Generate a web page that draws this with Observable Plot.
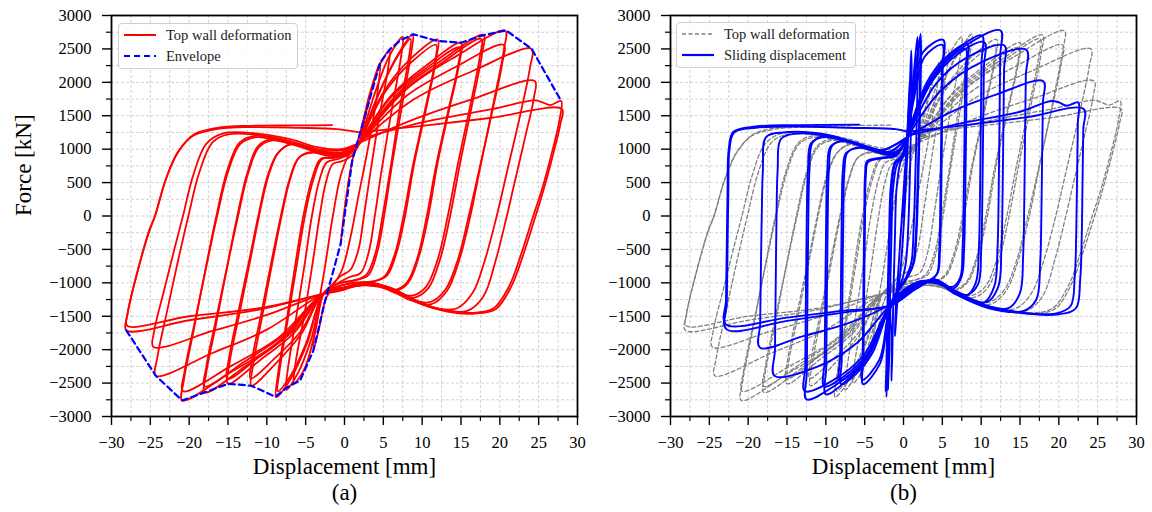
<!DOCTYPE html>
<html><head><meta charset="utf-8">
<script src="https://cdn.jsdelivr.net/npm/d3@7"></script>
<script src="https://cdn.jsdelivr.net/npm/@observablehq/plot@0.6"></script>
<style>
body{margin:0;background:#fff;width:1152px;height:512px;position:relative;overflow:hidden;font-family:"Liberation Serif","Times New Roman",serif}
.panel{position:absolute;top:0}
.panel svg{background:transparent !important}
.panel svg text{font-family:"Liberation Serif","Times New Roman",serif !important}
.legend{position:absolute;border:1.5px solid #cfcfcf;border-radius:4px;background:rgba(255,255,255,0.85);font-size:14.5px;color:#222;width:178px;height:44px}
.row{position:absolute;left:0;height:20px;line-height:20px;white-space:nowrap}
.row svg{position:absolute;left:5px;top:5px}
.row span{position:absolute;left:47px;top:0}
</style></head>
<body>
<div id="pa" class="panel" style="left:0px"></div>
<div id="pb" class="panel" style="left:559px"></div>
<div class="legend" style="left:118px;top:23px">
  <div class="row" style="top:1px"><svg width="34" height="10"><line x1="0" y1="5" x2="32" y2="5" stroke="#ff0000" stroke-width="2"/></svg><span>Top wall deformation</span></div>
  <div class="row" style="top:22px"><svg width="34" height="10"><line x1="0" y1="5" x2="32" y2="5" stroke="#0000ff" stroke-width="2.2" stroke-dasharray="6,4"/></svg><span>Envelope</span></div>
</div>
<div class="legend" style="left:676px;top:22px">
  <div class="row" style="top:1px"><svg width="34" height="10"><line x1="0" y1="5" x2="32" y2="5" stroke="#808080" stroke-width="1.4" stroke-dasharray="4,2.5"/></svg><span>Top wall deformation</span></div>
  <div class="row" style="top:22px"><svg width="34" height="10"><line x1="0" y1="5" x2="32" y2="5" stroke="#0000ff" stroke-width="2.2"/></svg><span>Sliding displacement</span></div>
</div>
<script>
// ---------- axis ticks ----------
const xMajor = [-30, -25, -20, -15, -10, -5, 0, 5, 10, 15, 20, 25, 30];
const xMinor = [-27.5, -22.5, -17.5, -12.5, -7.5, -2.5, 2.5, 7.5, 12.5, 17.5, 22.5, 27.5];
const yMajor = [-3000, -2500, -2000, -1500, -1000, -500, 0, 500, 1000, 1500, 2000, 2500, 3000];
const yMinor = [-2750, -2250, -1750, -1250, -750, -250, 250, 750, 1250, 1750, 2250, 2750];

// ---------- (a) top wall deformation cycles [displacement mm, force kN] ----------
const topWallCycles = [
  [[-0.5,-420],[0,100],[1,830],[2.1,1280],[3.3,1850],[4.6,2300],[4.3,1900],[3,1000],[1.8,300],[0.8,-300],[-0.3,-800],[-1.5,-1050],[-2.5,-1270],[-3.3,-1700],[-4,-2000],[-3.7,-1600],[-2.5,-750],[-1.5,0],[-0.5,600],[0.5,900],[2,1100]],
  [[2,1100],[3.2,1750],[4.5,2250],[5.8,2480],[5.6,2200],[4.5,1500],[3.4,700],[2.5,0],[1.8,-500],[0.8,-800],[-0.5,-900],[-1.8,-1050],[-2.7,-1160],[-3.8,-1750],[-5.2,-2300],[-6.5,-2500],[-6.3,-2200],[-5.2,-1500],[-4.1,-700],[-3.2,0],[-2.4,500],[-1.5,780],[-0.3,820],[0.9,900],[2,1100]],
  [[2,1100],[3.8,1800],[5.8,2400],[7.5,2680],[7.3,2400],[6.1,1600],[4.8,700],[3.9,0],[3.1,-550],[2.1,-850],[0.5,-920],[-1.5,-1050],[-2.7,-1160],[-4.3,-1850],[-6,-2350],[-7.5,-2600],[-7.3,-2300],[-6.2,-1500],[-5.1,-700],[-4.2,0],[-3.2,550],[-2.3,800],[-1,850],[0.6,920],[2,1100]],
  [[2,1100],[4.3,1800],[6.8,2400],[8.8,2720],[8.6,2450],[7.4,1650],[6.1,750],[5.1,0],[4.2,-550],[3.1,-880],[1.5,-960],[-0.5,-1000],[-2.7,-1160],[-4.8,-1900],[-7,-2450],[-8.8,-2710],[-8.6,-2400],[-7.5,-1600],[-6.3,-700],[-5.3,0],[-4.2,550],[-3.1,850],[-1.5,880],[0.5,930],[2,1100]],
  [[2,1100],[4.5,1850],[6.9,2400],[8.5,2650],[8.3,2380],[7.1,1600],[5.9,700],[4.9,0],[4,-550],[2.8,-880],[1,-970],[-1,-1020],[-2.7,-1160],[-5,-1920],[-7,-2400],[-8.6,-2620],[-8.4,-2350],[-7.3,-1550],[-6.1,-700],[-5.1,0],[-4,550],[-2.9,850],[-1.3,870],[0.6,940],[2,1100]],
  [[2,1100],[5,1850],[8.5,2350],[12,2640],[11.8,2350],[10.5,1600],[9,800],[7.8,0],[6.7,-550],[5.4,-900],[3.6,-980],[1,-1000],[-2.7,-1160],[-5.5,-1750],[-8.8,-2200],[-12,-2540],[-11.8,-2250],[-10.6,-1500],[-9.3,-700],[-8.1,0],[-7,550],[-5.8,880],[-4,950],[-2,900],[0.5,950],[2,1100]],
  [[2,1100],[5.2,1850],[8.6,2300],[11.8,2560],[11.6,2280],[10.3,1550],[8.8,750],[7.6,0],[6.5,-560],[5.2,-900],[3.4,-990],[0.8,-1010],[-2.7,-1160],[-5.6,-1720],[-8.9,-2120],[-12.1,-2430],[-11.9,-2150],[-10.7,-1450],[-9.4,-680],[-8.2,0],[-7.1,540],[-5.9,870],[-4.2,960],[-2.2,910],[0.4,950],[2,1100]],
  [[2,1100],[6,1800],[10.5,2250],[15,2590],[14.8,2300],[13.5,1600],[12,800],[10.8,0],[9.6,-600],[8.2,-1000],[6.5,-1120],[4.5,-1060],[2,-1030],[-0.5,-1080],[-2.7,-1160],[-6.5,-1750],[-10.8,-2150],[-15,-2510],[-14.8,-2200],[-13.6,-1500],[-12.2,-700],[-11,0],[-9.8,600],[-8.5,950],[-6.8,1080],[-4.5,1030],[-2.5,960],[0.5,960],[2,1100]],
  [[2,1100],[6,1780],[10.4,2200],[14.8,2520],[14.6,2240],[13.3,1550],[11.8,760],[10.6,0],[9.4,-620],[8,-1000],[6.3,-1110],[4.3,-1050],[1.8,-1040],[-0.6,-1090],[-2.7,-1160],[-6.6,-1720],[-10.9,-2100],[-15.1,-2440],[-14.9,-2150],[-13.7,-1450],[-12.3,-680],[-11.1,0],[-9.9,600],[-8.6,940],[-6.9,1070],[-4.6,1020],[-2.6,950],[0.4,960],[2,1100]],
  [[2,1100],[7,1850],[12.5,2330],[17.9,2710],[17.7,2420],[16.4,1650],[14.9,800],[13.6,0],[12.3,-650],[10.8,-1080],[9,-1220],[6.5,-1150],[4,-1020],[1.5,-1050],[-2.7,-1160],[-7.5,-1800],[-12.8,-2250],[-18,-2640],[-17.8,-2350],[-16.5,-1600],[-15.1,-750],[-13.8,0],[-12.5,650],[-11.1,1050],[-9.3,1150],[-6.5,1080],[-3.8,970],[-1,930],[2,1100]],
  [[2,1100],[7,1820],[12.4,2280],[17.6,2650],[17.4,2370],[16.1,1600],[14.6,780],[13.3,0],[12,-650],[10.5,-1060],[8.7,-1190],[6.2,-1120],[3.8,-1010],[1.3,-1050],[-2.7,-1160],[-7.6,-1760],[-12.9,-2180],[-18,-2550],[-17.8,-2260],[-16.5,-1520],[-15,-700],[-13.7,0],[-12.4,640],[-11,1030],[-9.2,1130],[-6.4,1060],[-3.7,960],[-1,920],[2,1100]],
  [[2,1100],[8,1900],[14.5,2400],[20.7,2770],[20.5,2480],[19.2,1700],[17.6,800],[16.2,0],[14.8,-650],[13.2,-1120],[11.2,-1320],[8.5,-1260],[5.5,-1080],[3,-1000],[0.5,-1060],[-2.7,-1160],[-8.5,-1880],[-14.8,-2350],[-20.9,-2760],[-20.7,-2470],[-19.4,-1700],[-17.9,-800],[-16.5,0],[-15.1,680],[-13.5,1100],[-11.5,1200],[-8.5,1140],[-5.5,1040],[-2.5,950],[0.5,950],[2,1100]],
  [[2,1100],[8,1800],[14.3,2230],[20.5,2560],[20.3,2280],[19,1550],[17.4,720],[16,0],[14.6,-650],[13,-1100],[11,-1290],[8.2,-1230],[5.3,-1060],[2.8,-990],[0.3,-1060],[-2.7,-1160],[-8.5,-1820],[-14.7,-2250],[-20.8,-2620],[-20.6,-2330],[-19.3,-1600],[-17.8,-760],[-16.4,0],[-15,660],[-13.4,1080],[-11.3,1180],[-8.3,1120],[-5.3,1030],[-2.4,950],[0.5,960],[2,1100]],
  [[2,1100],[9,1750],[16.5,2170],[24.1,2500],[23.9,2230],[22.6,1500],[21,700],[19.6,0],[18.1,-650],[16.5,-1150],[14.5,-1380],[11.5,-1380],[8.5,-1250],[5.5,-1060],[2.5,-1000],[0,-1070],[-2.7,-1160],[-10,-1700],[-17,-2050],[-24.3,-2390],[-24.1,-2120],[-22.8,-1400],[-21.4,-650],[-20.1,0],[-18.7,650],[-17,1100],[-15,1220],[-11,1210],[-7,1120],[-3.5,1000],[-0.5,980],[2,1100]],
  [[2,1100],[9,1450],[16.5,1750],[24.5,2020],[24.4,1780],[23.2,1150],[21.7,400],[20.9,0],[19.5,-650],[17.9,-1200],[15.8,-1420],[12.5,-1400],[9.5,-1280],[6,-1080],[3,-1000],[0,-1080],[-2.7,-1160],[-10,-1480],[-17,-1720],[-24.6,-1960],[-24.5,-1720],[-23.2,-1100],[-21.8,-450],[-20.8,0],[-19.5,600],[-17.8,1080],[-15.5,1240],[-11,1230],[-7,1150],[-3.5,1030],[-0.5,1000],[2,1100]],
  [[2,1150],[10,1400],[19,1600],[24.5,1730],[25.5,1700],[26.5,1660],[27.9,1720],[27.7,1450],[26.6,900],[25.3,350],[24.3,0],[22.8,-550],[21.2,-1050],[19.2,-1380],[16.5,-1450],[13,-1410],[9.5,-1290],[6,-1080],[3,-1000],[0,-1090],[-2.7,-1160],[-11,-1400],[-20,-1560],[-28.1,-1710],[-28,-1500],[-26.8,-900],[-25.2,-250],[-24.4,0],[-23,550],[-21.5,950],[-19.5,1200],[-16.5,1300],[-12,1330],[-6,1320],[-1,1300],[2,1250]],
  [[2,1250],[10,1350],[19,1470],[28,1600],[27.8,1380],[26.7,850],[25.4,300],[24.6,0],[23.1,-550],[21.5,-1050],[19.5,-1390],[16.8,-1460],[13.2,-1430],[9.6,-1300],[6,-1090],[3,-1010],[0,-1100],[-2.7,-1170],[-11,-1380],[-20,-1500],[-28,-1640],[-27.9,-1450],[-26.7,-850],[-25.1,-200],[-24.4,0],[-23,550],[-21.4,960],[-19.4,1220],[-16.4,1320],[-12,1350],[-6,1355],[-1.6,1360]]
];

// ---------- (a) envelope ----------
const envelope = [[-28.1,-1710],[-24.3,-2390],[-20.9,-2760],[-18,-2640],[-15,-2510],[-12,-2540],[-8.9,-2705],[-7.4,-2565],[-5.7,-2460],[-4,-2010],[-2.5,-1270],[-0.5,-420],[1,830],[2.1,1280],[4.6,2300],[5.9,2500],[7.2,2630],[8.9,2718],[11.9,2620],[15,2593],[17.8,2703],[20.8,2778],[24.1,2500],[27.9,1720]];

// ---------- (b) sliding displacement cycles [displacement mm, force kN] ----------
const slidingCycles = [
  [[0,0],[0.3,800],[0.6,1500],[0.8,2000],[0.7,1500],[0.4,700],[0.1,0],[-0.3,-700],[-0.8,-1300],[-1.1,-1800],[-1,-1400],[-0.6,-700],[-0.2,0],[0.2,700],[0.5,1180]],
  [[0.5,1180],[0.8,1900],[1.0,2476],[1.05,2100],[0.95,1300],[0.8,500],[0.6,-200],[0.3,-700],[-0.3,-1000],[-1.6,-1320],[-1.5,-1900],[-1.55,-2467],[-1.45,-2100],[-1.3,-1200],[-1.1,-300],[-0.9,400],[-0.4,800],[0.2,950],[0.5,1180]],
  [[0.5,1180],[1.3,2100],[1.8,2680],[1.85,2300],[1.7,1400],[1.5,500],[1.3,-200],[1,-700],[0.2,-950],[-1.6,-1320],[-1.8,-2000],[-2.0,-2600],[-1.9,-2200],[-1.75,-1300],[-1.55,-300],[-1.35,400],[-0.8,780],[0,900],[0.5,1180]],
  [[0.5,1180],[1.6,2200],[2.2,2725],[2.25,2350],[2.1,1400],[1.9,500],[1.7,-200],[1.3,-720],[0.4,-940],[-1.6,-1320],[-1.9,-2100],[-2.2,-2707],[-2.1,-2300],[-1.95,-1300],[-1.75,-300],[-1.55,400],[-1,800],[-0.2,880],[0.5,1180]],
  [[0.5,1180],[1.5,2150],[2.1,2650],[2.15,2300],[2.0,1350],[1.8,450],[1.6,-250],[1.2,-730],[0.3,-950],[-1.6,-1320],[-2,-2050],[-2.3,-2620],[-2.2,-2250],[-2.05,-1250],[-1.85,-250],[-1.65,420],[-1.1,810],[-0.3,890],[0.5,1180]],
  [[0.5,1180],[1.5,1950],[2.5,2450],[5.1,2636],[5.05,2200],[4.95,1200],[4.85,300],[4.7,-500],[4.4,-850],[3.5,-950],[2,-980],[0.2,-1100],[-1.6,-1320],[-3,-2200],[-5.2,-2517],[-5.15,-2100],[-5.05,-1000],[-4.95,0],[-4.85,600],[-4.6,800],[-3.5,850],[-2.3,870],[-1,900],[0.5,1180]],
  [[0.5,1180],[1.6,1900],[2.7,2380],[5.0,2560],[4.95,2150],[4.85,1150],[4.75,250],[4.6,-520],[4.3,-870],[3.4,-960],[1.9,-990],[0.1,-1110],[-1.6,-1320],[-3.1,-2150],[-5.3,-2450],[-5.25,-2050],[-5.15,-950],[-5.05,0],[-4.95,620],[-4.7,820],[-3.6,860],[-2.4,880],[-1,910],[0.5,1180]],
  [[0.5,1180],[3,2000],[5.5,2380],[8.2,2575],[8.15,2200],[8.05,1200],[7.95,300],[7.8,-500],[7.5,-900],[6.5,-1080],[4,-1000],[2,-1000],[0,-1120],[-1.6,-1320],[-4,-2050],[-6,-2350],[-8,-2520],[-7.95,-2150],[-7.85,-1000],[-7.75,0],[-7.6,700],[-7.2,950],[-5.5,1030],[-3,950],[-1,920],[0.5,1180]],
  [[0.5,1180],[3.1,1960],[5.6,2330],[8.0,2500],[7.95,2150],[7.85,1150],[7.75,250],[7.6,-520],[7.3,-920],[6.3,-1060],[3.9,-990],[1.9,-1000],[-0.1,-1120],[-1.6,-1320],[-4.1,-2000],[-6.1,-2300],[-8.2,-2450],[-8.15,-2100],[-8.05,-980],[-7.95,0],[-7.8,690],[-7.4,940],[-5.6,1020],[-3.1,945],[-1,915],[0.5,1180]],
  [[0.5,1180],[3.5,2050],[7,2500],[10.1,2700],[10.05,2300],[9.95,1300],[9.85,300],[9.7,-500],[9.3,-1000],[8,-1200],[6,-1100],[4,-980],[1.5,-1050],[-1.6,-1320],[-4.5,-2100],[-7.5,-2480],[-10,-2667],[-9.95,-2250],[-9.85,-1000],[-9.75,0],[-9.6,700],[-9.2,1050],[-7.5,1130],[-4.5,1030],[-2,950],[0.5,1180]],
  [[0.5,1180],[3.6,2000],[7.1,2430],[10.4,2600],[10.35,2220],[10.25,1250],[10.15,250],[10,-520],[9.6,-1020],[8.2,-1180],[6.1,-1090],[4,-970],[1.4,-1050],[-1.6,-1320],[-4.6,-2050],[-7.7,-2400],[-10.2,-2550],[-10.15,-2150],[-10.05,-960],[-9.95,0],[-9.8,690],[-9.4,1040],[-7.7,1120],[-4.6,1020],[-2,945],[0.5,1180]],
  [[0.5,1180],[4,2100],[8,2550],[12.5,2775],[12.45,2400],[12.35,1300],[12.25,300],[12.1,-500],[11.7,-1050],[10.3,-1300],[7.5,-1200],[4,-950],[1.5,-1060],[-1.6,-1320],[-5,-2150],[-9,-2550],[-12.5,-2742],[-12.45,-2350],[-12.35,-1000],[-12.25,0],[-12.1,700],[-11.7,1100],[-10,1200],[-6.5,1100],[-3,980],[0.5,1180]],
  [[0.5,1180],[4.2,1980],[8.3,2380],[13,2550],[12.95,2200],[12.85,1200],[12.75,250],[12.6,-520],[12.2,-1060],[10.7,-1290],[7.7,-1190],[4,-960],[1.4,-1070],[-1.6,-1320],[-5.1,-2080],[-9.1,-2460],[-12.7,-2620],[-12.65,-2250],[-12.55,-980],[-12.45,0],[-12.3,690],[-11.9,1090],[-10.2,1180],[-6.6,1090],[-3,975],[0.5,1180]],
  [[0.5,1180],[5,1900],[10,2300],[15.8,2486],[15.75,2100],[15.65,1200],[15.55,200],[15.4,-600],[15,-1150],[13.5,-1380],[10,-1320],[6.5,-1150],[4,-960],[1.5,-1070],[-1.6,-1320],[-6,-1900],[-11,-2250],[-16.6,-2392],[-16.55,-2000],[-16.45,-1000],[-16.35,0],[-16.2,700],[-15.8,1150],[-14,1230],[-9,1180],[-4,1000],[-1,950],[0.5,1180]],
  [[0.5,1180],[6,1550],[12,1820],[18,2016],[17.95,1700],[17.85,900],[17.75,0],[17.6,-700],[17.1,-1250],[15.5,-1420],[11,-1380],[7,-1180],[4,-950],[1.5,-1080],[-1.6,-1320],[-7,-1600],[-13,-1800],[-18.5,-1968],[-18.45,-1600],[-18.35,-700],[-18.25,0],[-18.1,700],[-17.7,1180],[-15.5,1250],[-10,1220],[-5,1050],[-1,960],[0.5,1180]],
  [[0.5,1200],[8,1400],[15,1560],[19,1720],[20,1700],[21,1650],[22.5,1700],[22.45,1400],[22.35,600],[22.25,-200],[22.05,-900],[21.5,-1350],[19.5,-1460],[15,-1440],[10,-1320],[6.5,-1150],[4,-950],[1.5,-1090],[-1.6,-1330],[-8,-1450],[-15,-1570],[-22.8,-1693],[-22.75,-1300],[-22.65,-400],[-22.55,400],[-22.4,1000],[-21.8,1250],[-19,1320],[-14,1340],[-7,1320],[-1,1300],[0.5,1260]],
  [[0.5,1260],[8,1360],[16,1480],[23.2,1600],[23.15,1300],[23.05,500],[22.95,-300],[22.75,-950],[22.2,-1380],[20,-1470],[15,-1450],[10,-1330],[6.5,-1160],[4,-960],[1.5,-1100],[-1.6,-1340],[-8,-1420],[-15,-1520],[-22.9,-1620],[-22.85,-1250],[-22.75,-400],[-22.65,400],[-22.5,1000],[-21.9,1260],[-19,1340],[-14,1360],[-5.7,1367]]
];

// ---------- build tables ----------
const toRows = (cycles) => cycles.flatMap((pts, c) => pts.map(([x, y]) => ({x, y, c})));
const topWallRows = toRows(topWallCycles);
const slidingRows = toRows(slidingCycles);
const envelopeRows = envelope.map(([x, y]) => ({x, y}));

const fmt = d => d < 0 ? "\u2212" + Math.abs(d) : String(d);
const FONT = "Liberation Serif";

function panel(dataMarks, tag) {
  return Plot.plot({
    width: 590, height: 512,
    marginLeft: 111, marginRight: 13, marginTop: 15, marginBottom: 96,
    x: {domain: [-30, 30], label: null},
    y: {domain: [-3000, 3000], label: null},
    style: {fontFamily: FONT, fontSize: "16px", color: "black", background: "transparent", overflow: "visible"},
    marks: [
      Plot.gridX(xMajor.concat(xMinor), {stroke: "#b0b0b0", strokeOpacity: 0.7, strokeDasharray: "3,2", strokeWidth: 0.8}),
      Plot.gridY(yMajor.concat(yMinor), {stroke: "#b0b0b0", strokeOpacity: 0.7, strokeDasharray: "3,2", strokeWidth: 0.8}),
      ...dataMarks,
      Plot.frame({stroke: "black", strokeWidth: 1.8}),
      Plot.axisX(xMajor, {tickSize: 9, tickPadding: 11, tickFormat: fmt, fontSize: 16.5, fontFamily: FONT, strokeWidth: 1.4, label: null}),
      Plot.axisX(xMinor, {tickSize: 5, tickFormat: () => "", strokeWidth: 1.2, label: null}),
      Plot.axisY(yMajor, {tickSize: 9, tickPadding: 11, tickFormat: fmt, fontSize: 16.5, fontFamily: FONT, strokeWidth: 1.4, label: null}),
      Plot.axisY(yMinor, {tickSize: 5, tickFormat: () => "", strokeWidth: 1.2, label: null}),
      Plot.text(["Displacement [mm]"], {text: d => d, frameAnchor: "bottom", dy: 57, fontSize: 23, fontFamily: FONT}),
      Plot.text([tag], {text: d => d, frameAnchor: "bottom", dy: 83, fontSize: 23, fontFamily: FONT}),
      ...(tag === "(a)" ? [Plot.text(["Force [kN]"], {text: d => d, frameAnchor: "left", dx: -88, rotate: -90, fontSize: 23, fontFamily: FONT})] : [])
    ]
  });
}

const marksA = [
  Plot.line(topWallRows, {x: "x", y: "y", z: "c", stroke: "#ff0000", strokeWidth: 1.8, curve: "catmull-rom"}),
  Plot.line(envelopeRows, {x: "x", y: "y", stroke: "#0000ff", strokeWidth: 2.2, strokeDasharray: "6,4"})
];
const marksB = [
  Plot.line(topWallRows, {x: "x", y: "y", z: "c", stroke: "#808080", strokeWidth: 1.3, strokeDasharray: "4,2.5", curve: "catmull-rom"}),
  Plot.line(slidingRows, {x: "x", y: "y", z: "c", stroke: "#0000ff", strokeWidth: 1.9, curve: "catmull-rom"})
];

document.getElementById("pa").appendChild(panel(marksA, "(a)"));
document.getElementById("pb").appendChild(panel(marksB, "(b)"));
</script>
</body></html>
